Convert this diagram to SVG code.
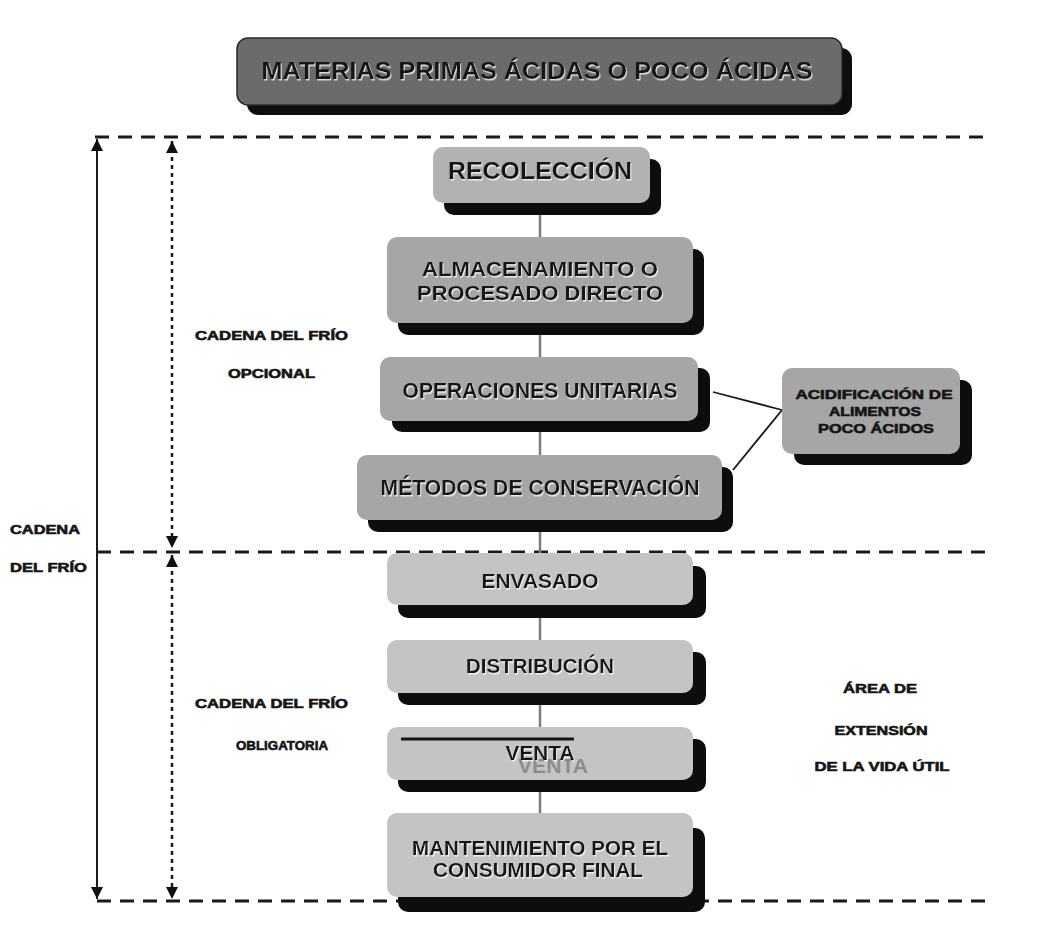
<svg xmlns="http://www.w3.org/2000/svg" width="1056" height="936" viewBox="0 0 1056 936">
  <defs>
    <marker id="tip" markerUnits="userSpaceOnUse" markerWidth="12" markerHeight="12" refX="12" refY="6" orient="auto-start-reverse">
      <path d="M0,0 L12,6 L0,12 z" fill="#111"/>
    </marker>
    <filter id="emboss" x="-5%" y="-20%" width="110%" height="140%">
      <feDropShadow dx="1" dy="1.5" stdDeviation="0.2" flood-color="#ffffff" flood-opacity="0.75"/>
    </filter>
    <style>
      .shadow { fill: #0d0d0d; }
      .box { fill: #b2b2b2; }
      .box-dark { fill: #a6a6a6; }
      .box-light { fill: #c4c4c4; }
      .node-text { font-family: "Liberation Sans", Arial, sans-serif; font-weight: bold; fill: #141414; text-anchor: middle; }
      .label { font-family: "Liberation Sans", Arial, sans-serif; font-weight: 900; font-size: 13px; fill: #151515; text-anchor: middle; stroke: #151515; stroke-width: 0.6; }
      .label-left { text-anchor: start; }
      .boundary { fill: none; stroke: #1a1a1a; stroke-width: 3; stroke-dasharray: 14 9; }
      .axis { fill: none; stroke: #1a1a1a; stroke-width: 2; }
      .axis-dotted { fill: none; stroke: #1a1a1a; stroke-width: 2.5; stroke-dasharray: 4 4; }
      .flow { fill: none; stroke: #7c7c7c; stroke-width: 2.5; }
      .link { fill: none; stroke: #1a1a1a; stroke-width: 1.8; }
    </style>
  </defs>

  <rect width="1056" height="936" fill="#ffffff"/>

  <!-- zone boundaries -->
  <g id="boundaries">
    <line class="boundary" x1="95" y1="137" x2="990" y2="137"/>
    <line class="boundary" x1="97" y1="552" x2="990" y2="552"/>
    <line class="boundary" x1="97" y1="901" x2="990" y2="901"/>
  </g>

  <!-- span arrows -->
  <g id="spans">
    <line class="axis" x1="97" y1="139" x2="97" y2="899" marker-start="url(#tip)" marker-end="url(#tip)"/>
    <line class="axis-dotted" x1="172" y1="141" x2="172" y2="548" marker-start="url(#tip)" marker-end="url(#tip)"/>
    <line class="axis-dotted" x1="172" y1="555" x2="172" y2="899" marker-start="url(#tip)" marker-end="url(#tip)"/>
  </g>

  <!-- connectors -->
  <g id="connectors">
    <line class="flow" x1="540" y1="203" x2="540" y2="815"/>
    <line class="link" x1="713" y1="392" x2="782" y2="410"/>
    <line class="link" x1="733" y1="470" x2="782" y2="410"/>
  </g>

  <!-- header -->
  <g id="materias-primas">
    <rect class="shadow" x="247" y="48" width="605" height="67" rx="11"/>
    <rect x="237" y="38" width="605" height="67" rx="11" fill="#6b6b6b" stroke="#2a2a2a" stroke-width="1.5"/>
    <text class="node-text" x="537" y="79" font-size="24" textLength="551" lengthAdjust="spacingAndGlyphs" filter="url(#emboss)">MATERIAS PRIMAS ÁCIDAS O POCO ÁCIDAS</text>
  </g>

  <g id="recoleccion">
    <rect class="shadow" x="444" y="159" width="217" height="56" rx="10"/>
    <rect class="box" x="433" y="147" width="217" height="56" rx="10"/>
    <text class="node-text" x="540" y="179" font-size="23" textLength="184" lengthAdjust="spacingAndGlyphs" filter="url(#emboss)">RECOLECCIÓN</text>
  </g>

  <g id="almacenamiento">
    <rect class="shadow" x="398" y="249" width="306" height="86" rx="10"/>
    <rect class="box-dark" x="387" y="237" width="306" height="86" rx="10"/>
    <text class="node-text" x="540" y="276" font-size="21" textLength="236" lengthAdjust="spacingAndGlyphs" filter="url(#emboss)">ALMACENAMIENTO O</text>
    <text class="node-text" x="540" y="300" font-size="21" textLength="246" lengthAdjust="spacingAndGlyphs" filter="url(#emboss)">PROCESADO DIRECTO</text>
  </g>

  <g id="operaciones-unitarias">
    <rect class="shadow" x="392" y="368" width="318" height="64" rx="10"/>
    <rect class="box-dark" x="380" y="357" width="318" height="64" rx="10"/>
    <text class="node-text" x="540" y="398" font-size="22" textLength="275" lengthAdjust="spacingAndGlyphs" filter="url(#emboss)">OPERACIONES UNITARIAS</text>
  </g>

  <g id="metodos-conservacion">
    <rect class="shadow" x="368" y="467" width="365" height="65" rx="10"/>
    <rect class="box-dark" x="357" y="455" width="365" height="65" rx="10"/>
    <text class="node-text" x="540" y="495" font-size="22" textLength="319" lengthAdjust="spacingAndGlyphs" filter="url(#emboss)">MÉTODOS DE CONSERVACIÓN</text>
  </g>

  <g id="acidificacion">
    <rect class="shadow" x="794" y="380" width="178" height="85" rx="10"/>
    <rect class="box-dark" x="782" y="368" width="178" height="86" rx="10"/>
    <text class="label" x="874" y="399" font-size="12" textLength="157" lengthAdjust="spacingAndGlyphs">ACIDIFICACIÓN DE</text>
    <text class="label" x="875" y="416" font-size="12" textLength="92" lengthAdjust="spacingAndGlyphs">ALIMENTOS</text>
    <text class="label" x="876" y="433" font-size="12" textLength="116" lengthAdjust="spacingAndGlyphs">POCO ÁCIDOS</text>
  </g>

  <g id="envasado">
    <rect class="shadow" x="398" y="566" width="308" height="52" rx="10"/>
    <rect class="box-light" x="387" y="553" width="306" height="52" rx="10"/>
    <text class="node-text" x="540" y="588" font-size="21" textLength="117" lengthAdjust="spacingAndGlyphs" filter="url(#emboss)">ENVASADO</text>
  </g>

  <g id="distribucion">
    <rect class="shadow" x="398" y="652" width="308" height="53" rx="10"/>
    <rect class="box-light" x="387" y="640" width="306" height="53" rx="10"/>
    <text class="node-text" x="540" y="673" font-size="21" textLength="148" lengthAdjust="spacingAndGlyphs" filter="url(#emboss)">DISTRIBUCIÓN</text>
  </g>

  <g id="venta">
    <rect class="shadow" x="398" y="739" width="308" height="53" rx="10"/>
    <rect class="box-light" x="387" y="727" width="306" height="53" rx="10"/>
    <line x1="401" y1="739" x2="574" y2="739" stroke="#141414" stroke-width="3"/>
    <text class="node-text" x="553" y="773" font-size="21" textLength="70" lengthAdjust="spacingAndGlyphs" style="fill:#8c8c8c">VENTA</text>
    <text class="node-text" x="540" y="760" font-size="21" textLength="69" lengthAdjust="spacingAndGlyphs" filter="url(#emboss)">VENTA</text>
  </g>

  <g id="mantenimiento">
    <rect class="shadow" x="398" y="828" width="307" height="84" rx="10"/>
    <rect class="box-light" x="387" y="813" width="306" height="84" rx="10"/>
    <text class="node-text" x="540" y="855" font-size="21" textLength="256" lengthAdjust="spacingAndGlyphs" filter="url(#emboss)">MANTENIMIENTO POR EL</text>
    <text class="node-text" x="538" y="877" font-size="21" textLength="210" lengthAdjust="spacingAndGlyphs" filter="url(#emboss)">CONSUMIDOR FINAL</text>
  </g>

  <!-- zone labels -->
  <g id="label-opcional">
    <text class="label" x="271.5" y="340" textLength="153" lengthAdjust="spacingAndGlyphs">CADENA DEL FRÍO</text>
    <text class="label" x="271.5" y="378" textLength="87" lengthAdjust="spacingAndGlyphs">OPCIONAL</text>
  </g>

  <g id="label-cadena">
    <text class="label label-left" x="10" y="534" textLength="70" lengthAdjust="spacingAndGlyphs">CADENA</text>
    <text class="label label-left" x="10" y="572" textLength="77" lengthAdjust="spacingAndGlyphs">DEL FRÍO</text>
  </g>

  <g id="label-obligatoria">
    <text class="label" x="271.5" y="708" textLength="153" lengthAdjust="spacingAndGlyphs">CADENA DEL FRÍO</text>
    <text class="label" x="282" y="750" textLength="92" lengthAdjust="spacingAndGlyphs">OBLIGATORIA</text>
  </g>

  <g id="label-vida-util">
    <text class="label" x="880" y="693" textLength="74" lengthAdjust="spacingAndGlyphs">ÁREA DE</text>
    <text class="label" x="881" y="735" textLength="93" lengthAdjust="spacingAndGlyphs">EXTENSIÓN</text>
    <text class="label" x="882" y="771" textLength="135" lengthAdjust="spacingAndGlyphs">DE LA VIDA ÚTIL</text>
  </g>
</svg>
